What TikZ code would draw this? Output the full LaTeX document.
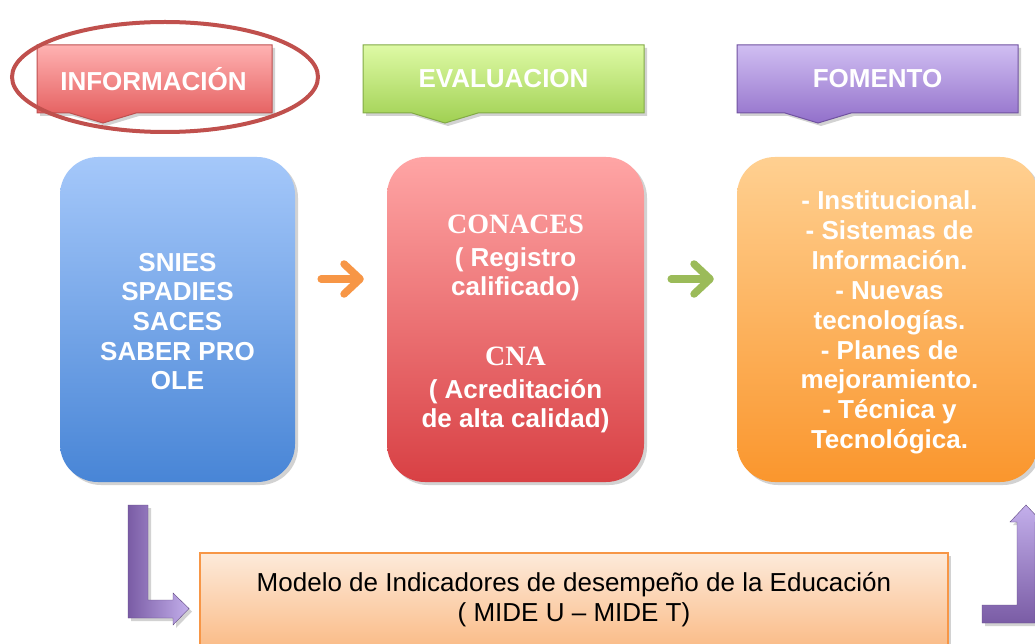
\documentclass[tikz,border=0pt]{standalone}
\usepackage{fontspec}
\setmainfont{Liberation Sans}
\newfontfamily\serifbf{Liberation Serif}
\usetikzlibrary{shadows,arrows.meta,shapes.geometric}
\definecolor{blueT}{RGB}{165,200,250}
\definecolor{blueB}{RGB}{72,133,214}
\definecolor{redT}{RGB}{255,165,165}
\definecolor{redB}{RGB}{216,64,68}
\definecolor{orT}{RGB}{255,208,145}
\definecolor{orB}{RGB}{250,150,45}
\definecolor{hrT}{RGB}{255,178,178}
\definecolor{hrB}{RGB}{226,88,88}
\definecolor{hrD}{RGB}{190,80,80}
\definecolor{hgT}{RGB}{222,250,165}
\definecolor{hgB}{RGB}{160,208,82}
\definecolor{hgD}{RGB}{130,170,70}
\definecolor{hpT}{RGB}{208,190,242}
\definecolor{hpB}{RGB}{146,112,202}
\definecolor{hpD}{RGB}{112,82,160}
\definecolor{ringC}{RGB}{192,80,77}
\definecolor{arrO}{RGB}{247,150,70}
\definecolor{arrG}{RGB}{155,187,89}
\definecolor{lpD}{RGB}{122,92,165}
\definecolor{lpL}{RGB}{195,175,235}
\definecolor{mdT}{RGB}{253,234,218}
\definecolor{mdB}{RGB}{250,188,136}
\definecolor{mdD}{RGB}{247,150,70}
\begin{document}
\begin{tikzpicture}[x=1pt,y=-1pt,
  shad/.style={drop shadow={opacity=0.35,shadow xshift=3pt,shadow yshift=-3pt}},
  bigbox/.style={shad,rounded corners=38pt,inner sep=0pt,align=center,text=white,
    font=\bfseries\fontsize{26}{29.7}\selectfont},
  hdr/.style={shad,line width=1pt},
  hdrtext/.style={text=white,font=\bfseries\fontsize{26}{30}\selectfont,inner sep=0pt},
  chev/.style={line width=7.5pt,line cap=round,line join=round,
    -{Straight Barb[length=16pt,width=30pt,round]}},
  lshape/.style={shad,draw=lpD!80!black,line width=0.4pt}
]
\useasboundingbox (0,0) rectangle (1035,644);
\fill[white] (0,0) rectangle (1035,644);

% headers
\path[hdr,draw=hrD,top color=hrT,bottom color=hrB]
  (37,45) -- (272,45) -- (272,113) -- (136,113) -- (103,123) -- (70,113) -- (37,113) -- cycle;
\node[hdrtext] (hinfo) at (153.5,79) {INFORMACIÓN};
\path[hdr,draw=hgD,top color=hgT,bottom color=hgB]
  (363,45) -- (644,45) -- (644,113) -- (478,113) -- (445,123) -- (412,113) -- (363,113) -- cycle;
\node[hdrtext] (heval) at (503.5,79) {EVALUACION};
\path[hdr,draw=hpD,top color=hpT,bottom color=hpB]
  (737,45) -- (1018,45) -- (1018,113) -- (851,113) -- (818,123) -- (785,113) -- (737,113) -- cycle;
\node[hdrtext] (hfom) at (877.5,79) {FOMENTO};

% highlight ring
\node[draw=ringC,line width=4pt,ellipse,minimum width=306pt,minimum height=110pt,inner sep=0pt] (ring) at (165,77) {};

% big boxes
\node[bigbox,top color=blueT,bottom color=blueB,minimum width=235pt,minimum height=325pt] (binfo) at (177.5,319.5) {};
\node[text=white,align=center,inner sep=0pt,font=\bfseries\fontsize{26}{29.7}\selectfont] (tinfo) at (177.5,321.5)
  {SNIES\\ SPADIES\\ SACES\\ SABER PRO\\ OLE};
\node[bigbox,top color=redT,bottom color=redB,minimum width=257pt,minimum height=325pt] (beval) at (515.5,319.5) {};
\node[text=white,align=center,inner sep=0pt,font=\bfseries\fontsize{26}{29.7}\selectfont] (teval) at (515.5,324)
  {{\serifbf\fontsize{28}{30}\selectfont CONACES}\\[3pt] ( Registro\\ calificado)\\[40pt]
   {\serifbf\fontsize{28}{30}\selectfont CNA}\\[3pt] ( Acreditación\\ de alta calidad)};
\node[bigbox,top color=orT,bottom color=orB,minimum width=301pt,minimum height=325pt] (bfom) at (887.5,319.5) {};
\node[text=white,align=center,inner sep=0pt,font=\bfseries\fontsize{26}{29.9}\selectfont] (tfom) at (889.5,322.5)
  {- Institucional.\\ - Sistemas de\\ Información.\\ - Nuevas\\ tecnologías.\\ - Planes de\\ mejoramiento.\\ - Técnica y\\ Tecnológica.};

% chevron arrows
\draw[chev,arrO] ([xshift=26pt,yshift=40.5pt]binfo.east) -- ([xshift=-23pt,yshift=40.5pt]beval.west);
\draw[chev,arrG] ([xshift=27pt,yshift=40.5pt]beval.east) -- ([xshift=-23pt,yshift=40.5pt]bfom.west);

% bottom box
\node[shad,draw=mdD,line width=1.5pt,top color=mdT,bottom color=mdB,minimum width=748pt,minimum height=94pt,
  align=center,inner sep=0pt,font=\fontsize{26}{30}\selectfont] (mide) at (574,600)
  {Modelo de Indicadores de desempeño de la Educación\\ ( MIDE U – MIDE T)};

% L-shaped block arrows
\path[lshape,left color=lpD,right color=lpL]
  (128,505) -- (148,505) -- (148,600) -- (173,600) -- (173,593) -- (189,608.5) -- (173,625) -- (173,618) -- (128,618) -- cycle;
\path[lshape,bottom color=lpD,top color=lpL]
  (982,605) -- (1017,605) -- (1017,522) -- (1010,522) -- (1026,505) -- (1042,522) -- (1035,522) -- (1035,623) -- (982,623) -- cycle;
\end{tikzpicture}
\end{document}
